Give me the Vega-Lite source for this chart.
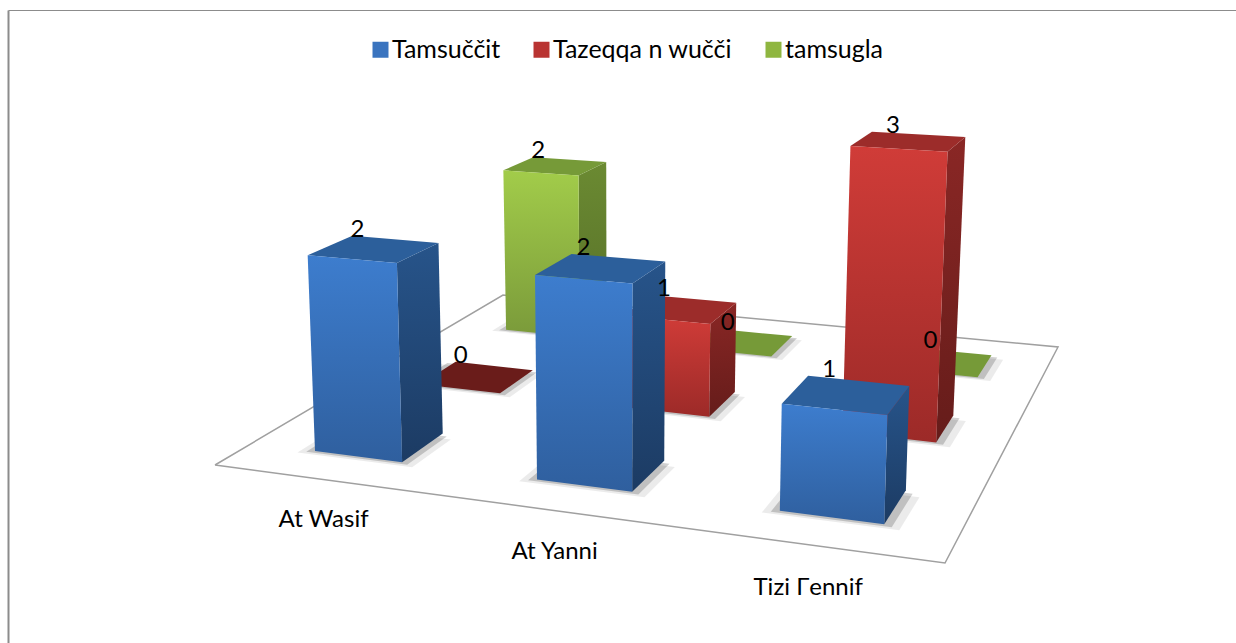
{
"$schema":"https://vega.github.io/schema/vega-lite/v6.json",
"width":1228,"height":633,"autosize":{"type":"none"},"padding":{"left":8,"top":10,"right":0,"bottom":0},
"background":"white",
"config":{"view":{"stroke":null},"font":"Lato"},
"data":{"values":[
{"category":"At Wasif","series":"Tamsuččit","value":2},
{"category":"At Wasif","series":"Tazeqqa n wučči","value":0},
{"category":"At Wasif","series":"tamsugla","value":2},
{"category":"At Yanni","series":"Tamsuččit","value":2},
{"category":"At Yanni","series":"Tazeqqa n wučči","value":1},
{"category":"At Yanni","series":"tamsugla","value":0},
{"category":"Tizi Γennif","series":"Tamsuččit","value":1},
{"category":"Tizi Γennif","series":"Tazeqqa n wučči","value":3},
{"category":"Tizi Γennif","series":"tamsugla","value":0}
]},
"transform":[
{"calculate":"indexof(['At Wasif','At Yanni','Tizi Γennif'],datum.category)","as":"i"},
{"calculate":"indexof(['Tamsuččit','Tazeqqa n wučči','tamsugla'],datum.series)","as":"j"},
{"calculate":"0.10+0.335*datum.i","as":"s0"},
{"calculate":"datum.s0+0.135","as":"s1"},
{"calculate":"0.1+0.34*datum.j","as":"t0"},
{"calculate":"datum.t0+0.132","as":"t1"},
{"calculate":"[0,1,2,3,4,5,6,7,8,9,10,11,12,13,14,15,16,17,18,19]","as":"vid"},
{"flatten":["vid"]},
{"calculate":"floor(datum.vid/4)","as":"face"},
{"calculate":"datum.vid%4","as":"corner"},
{"calculate":"datum.corner===1||datum.corner===2","as":"cs"},
{"calculate":"datum.face===1?datum.s1:datum.face===3?(datum.cs?datum.s1+0.022:datum.s0-0.02):datum.face===4?(datum.cs?datum.s1+0.011:datum.s0-0.01):(datum.cs?datum.s1:datum.s0)","as":"S"},
{"calculate":"datum.face===0?datum.t0:datum.face===1?(datum.cs?datum.t1:datum.t0):datum.face===2?(datum.corner>=2?datum.t1:datum.t0):datum.face===3?(datum.corner>=2?datum.t1-0.02:datum.t0-0.014):(datum.corner>=2?datum.t1-0.01:datum.t0-0.007)","as":"T"},
{"calculate":"datum.face===2?datum.value:datum.face>=3?0:(datum.corner>=2?datum.value:0)","as":"Z"},
{"calculate":"1-0.13065*datum.S+0.34191*datum.T","as":"w"},
{"calculate":"(606.54*datum.S+459.98*datum.T+215)/datum.w","as":"bx"},
{"calculate":"(24.44*datum.S-69.14*datum.T+465)/datum.w","as":"by"},
{"calculate":"datum.bx+0.012*(datum.bx-620)*datum.Z","as":"px"},
{"calculate":"datum.by-100*datum.Z/datum.w","as":"py"}
],
"encoding":{
"x":{"field":"px","type":"quantitative","scale":{"domain":[8,1236],"nice":false,"zero":false},"axis":{"orient":"top","domain":true,"domainColor":"#8c8c8c","domainWidth":1,"ticks":false,"labels":false,"grid":false,"title":null}},
"y":{"field":"py","type":"quantitative","scale":{"domain":[643,10],"nice":false,"zero":false},"axis":{"orient":"left","domain":true,"domainColor":"#8c8c8c","domainWidth":2,"ticks":false,"labels":false,"grid":false,"title":null}},
"detail":{"field":"category"},
"order":{"field":"corner","type":"quantitative"}
},
"layer":[
{"data":{"values":[{"corner":0},{"corner":1},{"corner":2},{"corner":3},{"corner":4}]},
"transform":[
{"calculate":"'floor'","as":"category"},
{"calculate":"(datum.corner===1||datum.corner===2)?1:0","as":"S"},
{"calculate":"(datum.corner===2||datum.corner===3)?1:0","as":"T"},
{"calculate":"1-0.13065*datum.S+0.34191*datum.T","as":"w"},
{"calculate":"(606.54*datum.S+459.98*datum.T+215)/datum.w","as":"px"},
{"calculate":"(24.44*datum.S-69.14*datum.T+465)/datum.w","as":"py"}
],
"mark":{"type":"line","filled":true,"fill":"#ffffff","stroke":"#a0a0a0","strokeWidth":1.5}},
{"transform":[{"filter":"datum.face===3"},{"calculate":"datum.category+datum.series","as":"k"}],"mark":{"type":"line","filled":true,"fill":"#000000","fillOpacity":0.08,"strokeWidth":0},"encoding":{"detail":{"field":"k"}}},
{"transform":[{"filter":"datum.face===4"},{"calculate":"datum.category+datum.series","as":"k"}],"mark":{"type":"line","filled":true,"fill":"#000000","fillOpacity":0.18,"strokeWidth":0},"encoding":{"detail":{"field":"k"}}},

{"transform":[{"filter":"datum.series==='tamsugla'&&datum.face===1&&datum.value>0"}],"mark":{"type":"line","filled":true,"strokeWidth":0,"fill":{"gradient":"linear","x1":0,"y1":0,"x2":0,"y2":1,"stops":[{"offset":0,"color":"#6b8a32"},{"offset":1,"color":"#566f28"}]}}},
{"transform":[{"filter":"datum.series==='tamsugla'&&datum.face===2"}],"mark":{"type":"line","filled":true,"strokeWidth":0,"fill":"#769a38"}},
{"transform":[{"filter":"datum.series==='tamsugla'&&datum.face===0&&datum.value>0"}],"mark":{"type":"line","filled":true,"strokeWidth":0,"fill":{"gradient":"linear","x1":0,"y1":0,"x2":0,"y2":1,"stops":[{"offset":0,"color":"#a2cc4a"},{"offset":1,"color":"#7a9a3a"}]}}},

{"transform":[{"filter":"datum.series==='Tazeqqa n wučči'&&datum.face===1&&datum.value>0"}],"mark":{"type":"line","filled":true,"strokeWidth":0,"fill":{"gradient":"linear","x1":0,"y1":0,"x2":0,"y2":1,"stops":[{"offset":0,"color":"#8a2725"},{"offset":1,"color":"#651c1a"}]}}},
{"transform":[{"filter":"datum.series==='Tazeqqa n wučči'&&datum.face===2&&datum.value>0"}],"mark":{"type":"line","filled":true,"strokeWidth":0,"fill":"#9c2c2a"}},
{"transform":[{"filter":"datum.series==='Tazeqqa n wučči'&&datum.face===2&&datum.value===0"}],"mark":{"type":"line","filled":true,"strokeWidth":0,"fill":"#6a1c1a"}},
{"transform":[{"filter":"datum.series==='Tazeqqa n wučči'&&datum.face===0&&datum.value>0"}],"mark":{"type":"line","filled":true,"strokeWidth":0,"fill":{"gradient":"linear","x1":0,"y1":0,"x2":0,"y2":1,"stops":[{"offset":0,"color":"#d03c38"},{"offset":1,"color":"#9c2a28"}]}}},

{"transform":[{"filter":"datum.series==='Tamsuččit'&&datum.face===1&&datum.value>0"}],"mark":{"type":"line","filled":true,"strokeWidth":0,"fill":{"gradient":"linear","x1":0,"y1":0,"x2":0,"y2":1,"stops":[{"offset":0,"color":"#27548a"},{"offset":1,"color":"#1c3b63"}]}}},
{"transform":[{"filter":"datum.series==='Tamsuččit'&&datum.face===2"}],"mark":{"type":"line","filled":true,"strokeWidth":0,"fill":"#2c5f9b"}},
{"transform":[{"filter":"datum.series==='Tamsuččit'&&datum.face===0&&datum.value>0"}],"mark":{"type":"line","filled":true,"strokeWidth":0,"fill":{"gradient":"linear","x1":0,"y1":0,"x2":0,"y2":1,"stops":[{"offset":0,"color":"#3d7dce"},{"offset":1,"color":"#2f5f9e"}]}}},

{"transform":[{"filter":"datum.face===2&&datum.corner===3"},{"calculate":"datum.px+[0,7,16][datum.i]","as":"lx"}],"mark":{"type":"text","fontSize":24,"font":"Lato","color":"#000000","dx":5,"dy":-6,"align":"center","baseline":"middle"},"encoding":{"x":{"field":"lx","type":"quantitative"},"text":{"field":"value","type":"quantitative"}}},
{"transform":[{"filter":"datum.j===0&&datum.face===0&&datum.corner===0"},
{"calculate":"0.232+0.316*datum.i","as":"ls"},
{"calculate":"1-0.13065*datum.ls-0.041","as":"lw"},
{"calculate":"(606.54*datum.ls-55.2+215)/datum.lw","as":"lx"},
{"calculate":"(24.44*datum.ls+8.3+465)/datum.lw+4","as":"ly"}],
"mark":{"type":"text","fontSize":24,"font":"Lato","color":"#000000","align":"center","baseline":"middle"},
"encoding":{"x":{"field":"lx","type":"quantitative"},"y":{"field":"ly","type":"quantitative"},"text":{"field":"category"}}},
{"transform":[{"filter":"datum.face===0&&datum.corner===0"}],"mark":{"type":"point","filled":true,"opacity":0,"size":1},
"encoding":{"color":{"field":"series","type":"nominal","scale":{"domain":["Tamsuččit","Tazeqqa n wučči","tamsugla"],"range":["#3a74bf","#b93432","#8fb640"]},
"legend":{"orient":"none","legendX":360,"legendY":27,"direction":"horizontal","title":null,"symbolType":"square","symbolSize":256,"symbolOpacity":1,"symbolStrokeWidth":0,"labelFontSize":25,"labelFont":"Lato","labelColor":"#000000","labelLimit":400,"columnPadding":28,"labelOffset":-1,"columns":3}}}}
]
}
